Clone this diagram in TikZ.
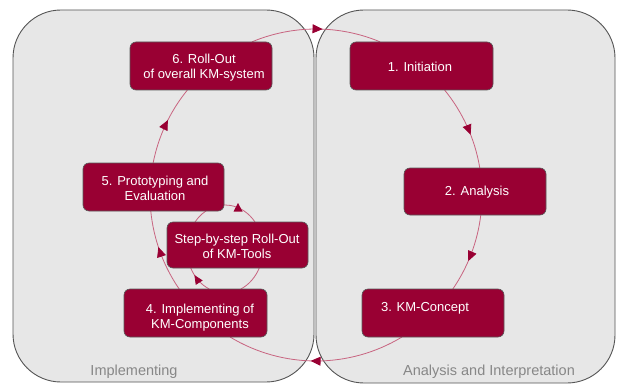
\documentclass[tikz,border=0pt]{standalone}
\usepackage{fontspec}
\setmainfont{Liberation Sans}
\usetikzlibrary{arrows.meta,decorations.markings,calc}
\definecolor{boxred}{RGB}{153,0,51}
\definecolor{flowline}{RGB}{200,100,128}
\definecolor{panelfill}{RGB}{231,231,231}
\definecolor{paneldraw}{RGB}{85,85,85}
\definecolor{labelgray}{RGB}{135,135,135}
\begin{document}
\begin{tikzpicture}[x=1pt,y=-1pt,
  panel/.style={fill=panelfill,draw=paneldraw,line width=0.9pt,rounded corners=48pt},
  box/.style={draw=black!65,fill=boxred,rounded corners=6pt,line width=0.6pt,inner sep=0pt},
  btxt/.style={text=white,font=\fontsize{13}{15}\selectfont,align=center,inner sep=0pt},
  lbl/.style={text=labelgray,font=\fontsize{14.5}{16}\selectfont,inner sep=0pt},
  flow/.style={draw=flowline,line width=0.8pt},
  flowmark/.style={postaction={decorate},decoration={markings,
     mark=at position #1 with {\arrow{Triangle[length=10pt,width=9pt,color=boxred]}}}}
]
\fill[white] (0,0) rectangle (617,385);
\useasboundingbox (0,0) rectangle (617,385);

% panels
\draw[panel] (13,10) rectangle (314,382);
\draw[panel] (316,10) rectangle (615,383);

% centres of the cycles
\coordinate (O) at (316,195);
\coordinate (C) at (225,249);

% main cycle
\draw[flow,flowmark=0.55] ($(O)+(247.3:166)$) coordinate (a61) arc[start angle=247.3,end angle=292.7,radius=166];
\draw[flow,flowmark=0.60] ($(O)+(-39.2:166)$) coordinate (a12) arc[start angle=-39.2,end angle=-9.4,radius=166];
\draw[flow,flowmark=0.60] ($(O)+(6.9:166)$) coordinate (a23) arc[start angle=6.9,end angle=34.5,radius=166];
\draw[flow,flowmark=0.53] ($(O)+(58.8:166)$) coordinate (a34) arc[start angle=58.8,end angle=121.2,radius=166];
\draw[flow,flowmark=0.56] ($(O)+(145.5:166)$) coordinate (a45) arc[start angle=145.5,end angle=174.5,radius=166];
\draw[flow,flowmark=0.56] ($(O)+(191.1:166)$) coordinate (a56) arc[start angle=191.1,end angle=219.2,radius=166];

% small cycle
\draw[flow,postaction={decorate},decoration={markings,
     mark=at position 0.72 with {\arrow{Triangle[length=9pt,width=8pt,color=boxred]}}}]
  ($(C)+(114.6:38 and 44)$) coordinate (s4) arc[start angle=114.6,end angle=154.4,x radius=38,y radius=44];
\draw[flow] ($(C)+(25.6:38 and 44)$) coordinate (s4b) arc[start angle=25.6,end angle=65.4,x radius=38,y radius=44];
\draw[flow] ($(C)+(217.8:38 and 44)$) coordinate (s5) arc[start angle=217.8,end angle=322.2,x radius=38,y radius=44];
\fill[boxred] (238,203) -- (233.5,211.5) -- (242.5,211.5) -- cycle;

% boxes
\node[box,minimum width=142pt,minimum height=48pt] (b6) at (201,66) {};
\node[box,minimum width=143pt,minimum height=48pt] (b1) at (421.5,66) {};
\node[box,minimum width=142pt,minimum height=47pt] (b2) at (475,191.5) {};
\node[box,minimum width=142pt,minimum height=48pt] (b3) at (433,313) {};
\node[box,minimum width=141pt,minimum height=48pt] (b5) at (153.5,187) {};
\node[box,minimum width=141pt,minimum height=46pt] (bs) at (237.5,245) {};
\node[box,minimum width=143pt,minimum height=48pt] (b4) at (195.5,313) {};

% box texts
\node[btxt] (t6) at (204,68) {6. Roll-Out\\of overall KM-system};
\node[btxt] (t1) at (420,67) {1. Initiation};
\node[btxt] (t2) at (477,192) {2. Analysis};
\node[btxt] (t3) at (425,308) {3. KM-Concept};
\node[btxt] (t5) at (155,188) {5. Prototyping and\\Evaluation};
\node[btxt] (ts) at (237,246) {Step-by-step Roll-Out\\of KM-Tools};
\node[btxt] (t4) at (200,318) {4. Implementing of\\KM-Components};

% panel labels
\node[lbl] (limp) at (134,372) {Implementing};
\node[lbl] (lana) at (489,372) {Analysis and Interpretation};
\end{tikzpicture}
\end{document}
